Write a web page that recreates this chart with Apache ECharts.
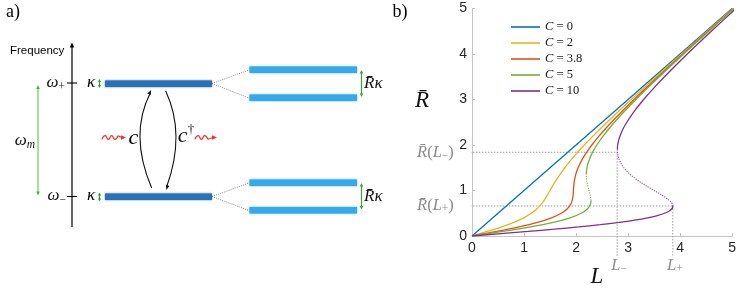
<!DOCTYPE html>
<html><head><meta charset="utf-8">
<script src="https://cdn.jsdelivr.net/npm/echarts@6/dist/echarts.min.js"></script>
<style>html,body{margin:0;padding:0;background:#fff}#c{width:739px;height:295px}</style>
</head><body><div id="c"></div>
<script>
// ---------- data (panel b): points [L, R] ----------
const legendNames = ['C = 0', 'C = 2', 'C = 3.8', 'C = 5', 'C = 10'];
const curveColors = ['#0072BD', '#EDB120', '#D95319', '#77AC30', '#7E2F8E'];
const lineC0 = [[0,0],[5,5]];
const lineC2 = [[0,0],[0.296,0.1],[0.570,0.2],[0.805,0.3],[0.995,0.4],[1.140,0.5],[1.249,0.6],[1.331,0.7],[1.395,0.8],[1.449,0.9],[1.500,1.0],[1.550,1.1],[1.603,1.2],[1.659,1.3],[1.720,1.4],[1.784,1.5],[1.853,1.6],[1.925,1.7],[2.000,1.8],[2.079,1.9],[2.160,2.0],[2.329,2.2],[2.595,2.5],[3.060,3.0],[3.540,3.5],[4.028,4.0],[4.520,4.5],[5.015,5.0]];
const lineC38 = [[0,0],[0.473,0.1],[0.903,0.2],[1.260,0.3],[1.530,0.4],[1.716,0.5],[1.833,0.6],[1.898,0.7],[1.930,0.8],[1.944,0.9],[1.950,1.0],[1.956,1.1],[1.966,1.2],[1.983,1.3],[2.007,1.4],[2.040,1.5],[2.080,1.6],[2.127,1.7],[2.180,1.8],[2.240,1.9],[2.304,2.0],[2.445,2.2],[2.681,2.5],[3.114,3.0],[3.576,3.5],[4.053,4.0],[4.538,4.5],[5.028,5.0]];
const lineC5Low = [[0,0],[0.590,0.1],[1.125,0.2],[1.563,0.3],[1.886,0.4],[2.100,0.5],[2.222,0.6],[2.276,0.7],[2.288,0.78]];
const lineC5Mid = [[2.288,0.78],[2.273,0.9],[2.250,1.0],[2.226,1.1],[2.208,1.2],[2.198,1.3],[2.197,1.35]];
const lineC5High = [[2.197,1.35],[2.199,1.4],[2.210,1.5],[2.231,1.6],[2.262,1.7],[2.300,1.8],[2.348,1.9],[2.400,2.0],[2.523,2.2],[2.738,2.5],[3.150,3.0],[3.600,3.5],[4.069,4.0],[4.550,4.5],[5.037,5.0]];
const lineC10Low = [[0,0],[1.080,0.1],[1.585,0.15],[2.049,0.2],[2.465,0.25],[2.825,0.3],[3.128,0.35],[3.373,0.4],[3.562,0.45],[3.700,0.5],[3.792,0.55],[3.844,0.6],[3.855,0.62],[3.862,0.66]];
const lineC10Mid = [[3.862,0.66],[3.853,0.7],[3.822,0.75],[3.774,0.8],[3.647,0.9],[3.500,1.0],[3.352,1.1],[3.216,1.2],[3.097,1.3],[2.997,1.4],[2.921,1.5],[2.862,1.6],[2.824,1.7],[2.801,1.8],[2.796,1.85],[2.795,1.9]];
const lineC10High = [[2.795,1.9],[2.796,1.95],[2.800,2.0],[2.818,2.1],[2.845,2.2],[2.902,2.35],[2.976,2.5],[3.125,2.75],[3.300,3.0],[3.493,3.25],[3.699,3.5],[4.138,4.0],[4.600,4.5],[5.074,5.0]];
const xTicks = [0, 1, 2, 3, 4, 5];
const yTicks = [0, 1, 2, 3, 4, 5];
const turnLminus = 2.79, turnRminus = 1.84;
const turnLplus = 3.86, turnRplus = 0.66;
const guideLeft = -0.33, guideBottom = -0.46;

const serif = 'Liberation Serif';
const sans = 'Liberation Sans';

function curve(name, data, color, dotted) {
  return {
    type: 'line', name: name, data: data, showSymbol: false, symbol: 'none',
    smooth: 0.3, silent: true, animation: false,
    lineStyle: dotted ? { color: color, width: 1.1, type: [1.2, 1.2], opacity: 0.85 }
                      : { color: color, width: 1.3 },
    itemStyle: { color: color }, z: 3
  };
}
function guide(data) {
  return {
    type: 'line', data: data, showSymbol: false, symbol: 'none', clip: false, silent: true,
    animation: false, lineStyle: { color: '#9a9a9a', width: 1, type: [1.5, 1.5] }, z: 1
  };
}

const chart = echarts.init(document.getElementById('c'), null, { renderer: 'canvas' });
const axisCommon = {
  type: 'value', min: 0, max: 5, interval: 1,
  axisLine: { show: true, lineStyle: { color: '#c4c4c4', width: 1 } },
  axisTick: { show: true, inside: true, length: 3, lineStyle: { color: '#c4c4c4' } },
  splitLine: { show: false },
  axisLabel: { color: '#262626', fontSize: 14, fontFamily: sans, margin: 5,
    formatter: v => (xTicks.indexOf(v) >= 0 ? String(v) : '') }
};
const option = {
  animation: false,
  backgroundColor: '#ffffff',
  grid: { left: 472, right: 6, top: 8.5, bottom: 59 },
  xAxis: Object.assign({}, axisCommon),
  yAxis: Object.assign({}, axisCommon, { axisLabel: Object.assign({}, axisCommon.axisLabel, { formatter: v => (yTicks.indexOf(v) >= 0 ? String(v) : '') }) }),
  legend: {
    data: legendNames, orient: 'vertical', left: 506, top: 15, icon: 'rect',
    itemWidth: 29, itemHeight: 1.6, itemGap: 2, selectedMode: false,
    formatter: n => '{i|C} = ' + n.split('= ')[1],
    textStyle: { fontFamily: serif, fontSize: 12.5, color: '#1a1a1a', lineHeight: 14,
      rich: { i: { fontFamily: serif, fontStyle: 'italic', fontSize: 12.5, lineHeight: 14 } } }
  },
  series: [
    guide([[guideLeft, turnRminus], [turnLminus, turnRminus]]),
    guide([[guideLeft, turnRplus], [turnLplus, turnRplus]]),
    guide([[turnLminus, turnRminus], [turnLminus, guideBottom]]),
    guide([[turnLplus, turnRplus], [turnLplus, guideBottom]]),
    curve(legendNames[0], lineC0, curveColors[0]),
    curve(legendNames[1], lineC2, curveColors[1]),
    curve(legendNames[2], lineC38, curveColors[2]),
    curve(legendNames[3], lineC5Low, curveColors[3]),
    curve(legendNames[3], lineC5Mid, curveColors[3], true),
    curve(legendNames[3], lineC5High, curveColors[3]),
    curve(legendNames[4], lineC10Low, curveColors[4]),
    curve(legendNames[4], lineC10Mid, curveColors[4], true),
    curve(legendNames[4], lineC10High, curveColors[4])
  ]
};
chart.setOption(option);

// ---------- graphics: panel a diagram + panel b annotations ----------
const G = [];
function txt(x, y, text, opts) {
  G.push({ type: 'text', x: x, y: y, silent: true, z: 10,
    style: Object.assign({ text: text, fill: '#000', align: 'center', verticalAlign: 'middle',
      fontFamily: serif, fontSize: 14 }, opts || {}) });
}
function seg(x1, y1, x2, y2, color, w, dash) {
  G.push({ type: 'line', silent: true, z: 5, shape: { x1, y1, x2, y2 },
    style: { stroke: color, lineWidth: w || 1, lineDash: dash || null } });
}
function head(tx, ty, dx, dy, len, hw, color) {
  const m = Math.hypot(dx, dy); dx /= m; dy /= m;
  const bx = tx - dx * len, by = ty - dy * len;
  G.push({ type: 'polygon', silent: true, z: 6,
    shape: { points: [[tx, ty], [bx - dy * hw, by + dx * hw], [bx + dy * hw, by - dx * hw]] },
    style: { fill: color } });
}
function dblArrow(x, y1, y2, color, lineColor, w, len, hw) {
  seg(x, y1 + len * 0.6, x, y2 - len * 0.6, lineColor || color, w);
  head(x, y1, 0, -1, len, hw, color);
  head(x, y2, 0, 1, len, hw, color);
}
function bar(x, y, w, h, color) {
  G.push({ type: 'rect', silent: true, z: 4, shape: { x, y, width: w, height: h },
    style: { fill: color, shadowBlur: 2, shadowColor: color } });
}
function wavy(x0, x1, y, color) {
  const pts = []; const step = 3.2; let i = 0;
  for (let x = x0; x <= x1 + 0.01; x += step, i++) pts.push([x, y + (i % 2 ? -1.8 : 1.8)]);
  G.push({ type: 'polyline', silent: true, z: 6, shape: { points: pts, smooth: 0.6 },
    style: { stroke: color, lineWidth: 1.2, fill: null } });
  const last = pts[pts.length - 1];
  seg(last[0], last[1], x1 + 3, y, color, 1.2);
  head(x1 + 7, y, 1, 0, 5, 2.2, color);
}

// panel labels
txt(13, 12, 'a)', { fontSize: 18 });
txt(400, 12, 'b)', { fontSize: 18 });

// frequency axis
txt(10, 51, 'Frequency', { fontFamily: sans, fontSize: 11.5, align: 'left' });
seg(72, 227, 72, 47, '#000', 1.2);
head(72, 42.5, 0, -1, 5, 2.2, '#000');
seg(67, 83, 77, 83, '#000', 1.1);
seg(67, 196.5, 77, 196.5, '#000', 1.1);
const wRich = { w: { fontFamily: serif, fontStyle: 'italic', fontSize: 17, fill: '#111' },
                s: { fontFamily: serif, fontSize: 11.5, fill: '#111', padding: [7, 0, 0, 0] },
                si: { fontFamily: serif, fontStyle: 'italic', fontSize: 11.5, fill: '#111', padding: [7, 0, 0, 0] } };
txt(65, 83, '{w|ω}{s|+}', { align: 'right', rich: wRich });
txt(66, 196, '{w|ω}{s|−}', { align: 'right', rich: wRich });
// omega_m green arrow
dblArrow(38, 85, 195.5, '#3fb43f', '#86d676', 1.5, 4, 1.8);
txt(25, 141, '{w|ω}{si|m}', { rich: wRich });

// kappa labels + small arrows
txt(91, 83, 'κ', { fontStyle: 'italic', fontSize: 17 });
txt(91, 196, 'κ', { fontStyle: 'italic', fontSize: 17 });
dblArrow(99.5, 79, 88, '#2a9e2a', '#2a9e2a', 1.2, 3, 1.6);
dblArrow(99.5, 192.5, 201.5, '#2a9e2a', '#2a9e2a', 1.2, 3, 1.6);

// mode bars
const darkBlue = '#2a72b8', lightBlue = '#36a9ea';
bar(105, 80.5, 107, 6.5, darkBlue);
bar(105, 193.5, 107, 6.5, darkBlue);
bar(249.5, 66.5, 107.5, 6.5, lightBlue);
bar(249.5, 94.5, 107.5, 6.5, lightBlue);
bar(249.5, 179.5, 107.5, 6.5, lightBlue);
bar(249.5, 207, 107.5, 6.5, lightBlue);
// splitting dotted lines
const dotC = '#777';
seg(212, 83.5, 249, 70, dotC, 0.9, [1, 1.2]);
seg(212, 83.5, 249, 98, dotC, 0.9, [1, 1.2]);
seg(212, 196.5, 249, 183, dotC, 0.9, [1, 1.2]);
seg(212, 196.5, 249, 210.5, dotC, 0.9, [1, 1.2]);
// R kappa arrows
dblArrow(361.5, 70, 97, '#33a833', '#33a833', 1.2, 3.5, 1.8);
dblArrow(361.5, 183, 209.5, '#33a833', '#33a833', 1.2, 3.5, 1.8);
const rkRich = { r: { fontFamily: serif, fontStyle: 'italic', fontSize: 17, fill: '#111' } };
txt(364, 84, '{r|R̄κ}', { align: 'left', rich: rkRich });
txt(364, 197, '{r|R̄κ}', { align: 'left', rich: rkRich });

// curved transition arrows
G.push({ type: 'bezierCurve', silent: true, z: 6,
  shape: { x1: 151.7, y1: 188, x2: 150.5, y2: 92.5, cpx1: 128.8, cpy1: 134.5 },
  style: { stroke: '#111', lineWidth: 1.1, fill: null } });
head(151.2, 90, 150.5 - 128.8, 92.5 - 134.5, 5, 1.8, '#111');
G.push({ type: 'bezierCurve', silent: true, z: 6,
  shape: { x1: 165.7, y1: 91, x2: 166.6, y2: 187, cpx1: 185.8, cpy1: 134 },
  style: { stroke: '#111', lineWidth: 1.1, fill: null } });
head(166.1, 190, 166.6 - 185.8, 187 - 134, 5, 1.8, '#111');
// c and c† labels
txt(133.5, 138, 'c', { fontStyle: 'italic', fontSize: 22 });
txt(186, 136, '{c|c}{d|†}', { rich: { c: { fontFamily: serif, fontStyle: 'italic', fontSize: 22, fill: '#111' },
                                        d: { fontFamily: serif, fontSize: 13, fill: '#111', padding: [0, 0, 12, 0] } } });
wavy(102, 119, 137.5, '#ff2a2a');
wavy(195, 210, 137.5, '#ff2a2a');

// panel b annotations, anchored through the chart's scales
function px(L, R) { return chart.convertToPixel({ xAxisIndex: 0, yAxisIndex: 0 }, [L, R]); }
const gray = '#8c8c8c';
const gRich = { r: { fontFamily: serif, fontStyle: 'italic', fontSize: 16.5, fill: gray },
                n: { fontFamily: serif, fontSize: 16.5, fill: gray },
                s: { fontFamily: serif, fontSize: 11.5, fill: gray, padding: [7, 0, 0, 0] } };
let p = px(guideLeft, turnRminus);
txt(p[0] - 1, p[1], '{r|R̄}{n|(}{r|L}{s|−}{n|)}', { align: 'right', rich: gRich });
p = px(guideLeft, turnRplus);
txt(p[0] - 1, p[1], '{r|R̄}{n|(}{r|L}{s|+}{n|)}', { align: 'right', rich: gRich });
p = px(turnLminus, guideBottom);
txt(p[0] + 2, p[1] + 9, '{r|L}{s|−}', { rich: gRich });
p = px(turnLplus, guideBottom);
txt(p[0] + 2, p[1] + 9, '{r|L}{s|+}', { rich: gRich });
// axis titles
txt(422, 101, 'R̄', { fontStyle: 'italic', fontSize: 23, fill: '#111' });
txt(597, 277, 'L', { fontStyle: 'italic', fontSize: 23, fill: '#111' });

chart.setOption({ graphic: G });
</script></body></html>
